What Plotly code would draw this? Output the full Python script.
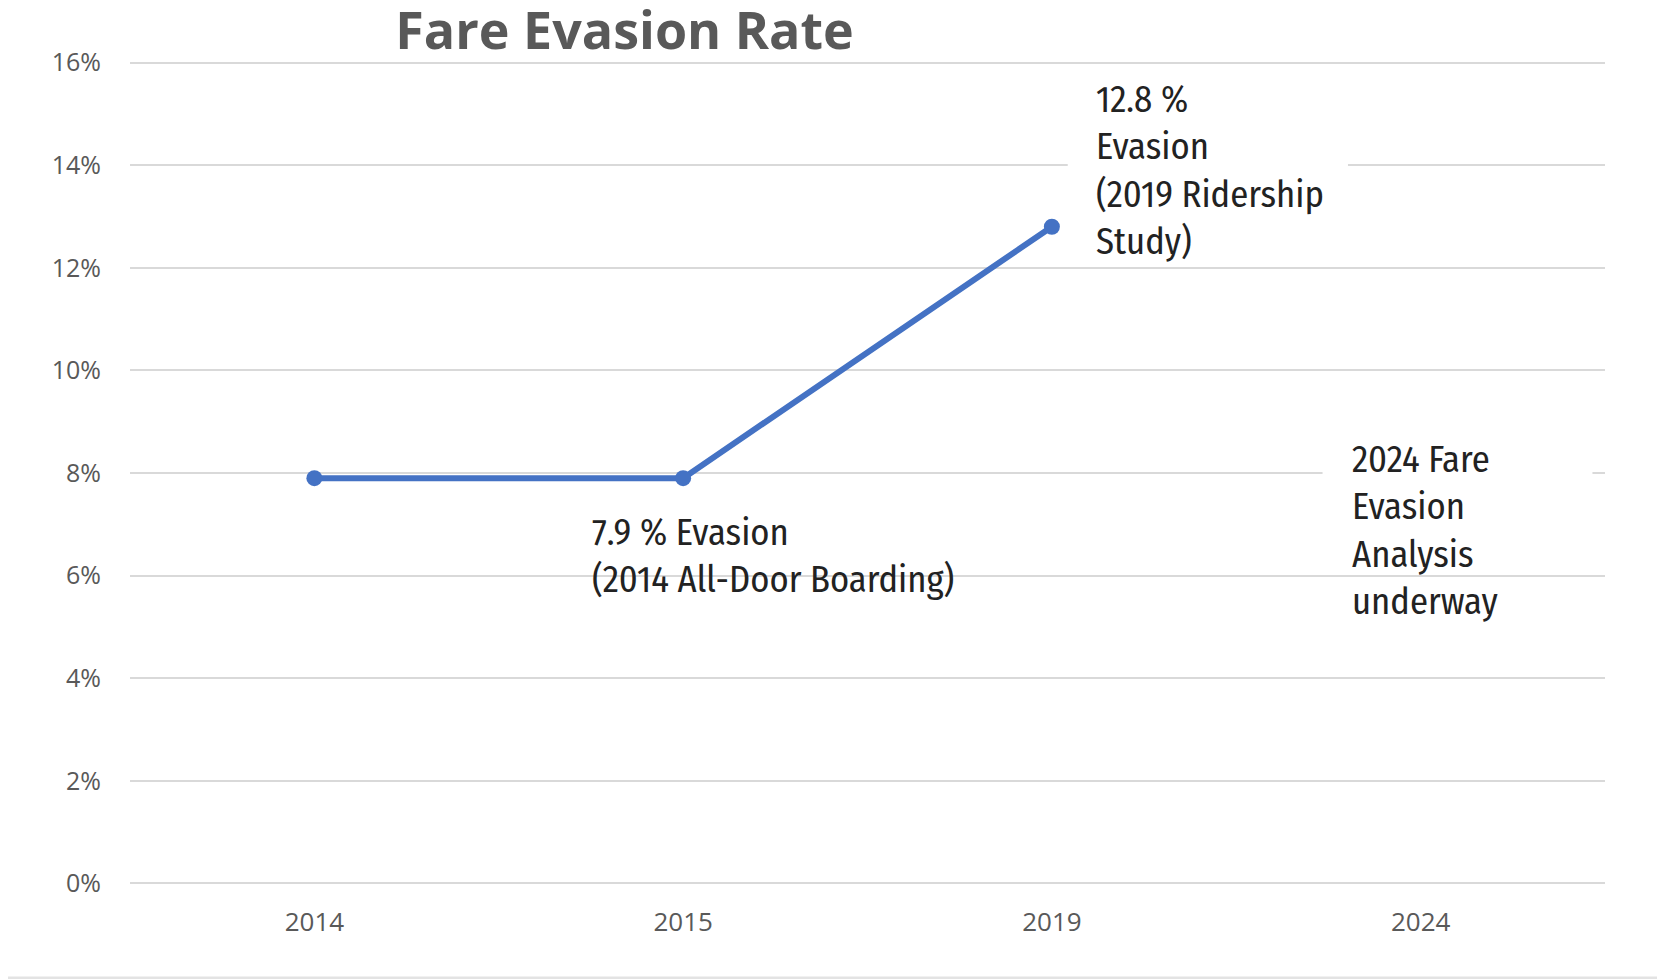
import plotly.graph_objects as go

# ---- data ----
years = ["2014", "2015", "2019", "2024"]
evasion_pct = [7.9, 7.9, 12.8, None]
y_ticks = [0, 2, 4, 6, 8, 10, 12, 14, 16]
y_ticktext = ["0%", "2%", "4%", "6%", "8%", "10%", "12%", "14%", "16%"]

label_2019 = ["12.8 %", "Evasion", "(2019 Ridership", "Study)"]
label_2015 = ["7.9 % Evasion", "(2014 All-Door Boarding)"]
label_2024 = ["2024 Fare", "Evasion", "Analysis", "underway"]

title_text = "Fare Evasion Rate"

# ---- styles ----
LINE_COLOR = "#4472C4"
GRID_COLOR = "#D9D9D9"
AXIS_TEXT = "#595959"
ANN_FONT = "Fira Sans Condensed, Archivo Narrow, Open Sans, sans-serif"
ANN_SIZE = 36.5
ANN_COLOR = "#222222"
LINE_SPACING = 45

fig = go.Figure()
fig.add_trace(go.Scatter(
    x=years, y=evasion_pct, mode="lines+markers",
    line=dict(color=LINE_COLOR, width=6),
    marker=dict(color=LINE_COLOR, size=16),
    connectgaps=False, hoverinfo="skip", showlegend=False,
))

# white label boxes that mask the gridlines behind the text
fig.add_shape(type="rect", xref="x", yref="y", x0=2.043, x1=2.803, y0=12.19, y1=15.76,
              fillcolor="white", line=dict(width=0), layer="above")
fig.add_shape(type="rect", xref="x", yref="y", x0=2.734, x1=3.466, y0=7.08, y1=8.64,
              fillcolor="white", line=dict(width=0), layer="above")
# thin grey frame edge at the bottom of the picture
fig.add_shape(type="rect", xref="paper", yref="paper", x0=-0.083, x1=1.05, y0=-0.1155, y1=-0.111,
              fillcolor="#E3E3E3", line=dict(width=0), layer="above")


def add_label(lines, xi, y, xshift, first_yshift):
    n = len(lines)
    fig.add_annotation(
        x=xi, y=y, xref="x", yref="y", text="<br>".join(lines), showarrow=False,
        xanchor="left", yanchor="middle", align="left",
        xshift=xshift, yshift=first_yshift - (n - 1) / 2 * LINE_SPACING,
        font=dict(family=ANN_FONT, size=ANN_SIZE, color=ANN_COLOR),
    )


add_label(label_2019, years.index("2019"), evasion_pct[2], 42, 123)
add_label(label_2015, years.index("2015"), evasion_pct[1], -93, -56)
add_label(label_2024, years.index("2024"), 8.21, -71, -1)

fig.update_layout(
    width=1657, height=971,
    margin=dict(l=122, r=60, t=53, b=94),
    paper_bgcolor="white", plot_bgcolor="white",
    title=dict(text="<b>" + title_text + "</b>", x=0.3353, xref="paper", xanchor="center",
               y=1 - 22.5 / 971, yref="container", yanchor="middle",
               font=dict(family="Open Sans", size=52, color=AXIS_TEXT)),
    xaxis=dict(type="category", categoryorder="array", categoryarray=years,
               range=[-0.5, 3.5], showgrid=False, zeroline=False, showline=False,
               ticks="", ticklabelstandoff=19,
               tickfont=dict(family="Open Sans", size=26, color=AXIS_TEXT)),
    yaxis=dict(range=[-0.03, 16.03], tickvals=y_ticks, ticktext=y_ticktext,
               showgrid=True, gridcolor=GRID_COLOR, gridwidth=1.5,
               zeroline=False, showline=False, ticks="", ticklabelstandoff=28,
               tickfont=dict(family="Open Sans", size=25, color=AXIS_TEXT)),
)

fig.write_html("out.html")
